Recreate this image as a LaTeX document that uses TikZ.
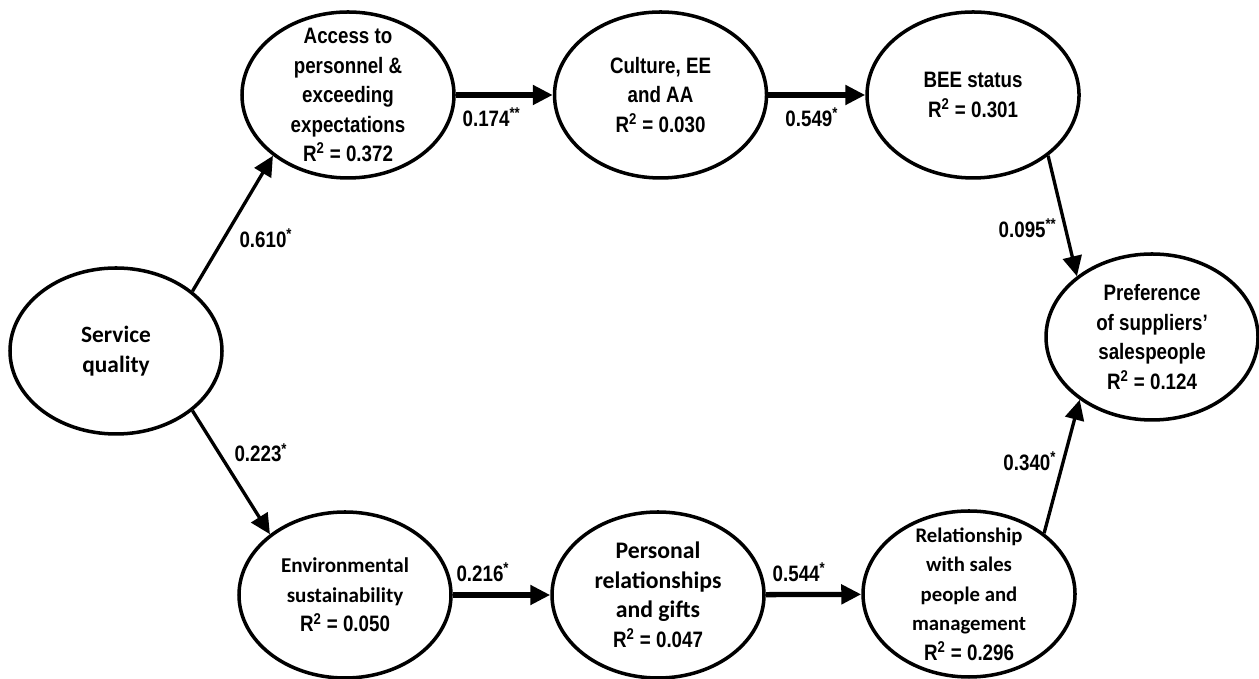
\documentclass[tikz,border=0pt]{standalone}
\usepackage{fontspec}
\setmainfont{Liberation Sans}
\newfontfamily\narrowbf{Liberation Sans}[FakeStretch=0.84]
\newfontfamily\calbf{Carlito}
\newcommand{\nb}{\narrowbf\bfseries\fontsize{12.7}{16.8}\selectfont}
\newcommand{\cb}[2]{\calbf\bfseries\fontsize{#1}{#2}\selectfont}
\usepackage{tikz}
\usetikzlibrary{shapes.geometric, arrows.meta, positioning}

\begin{document}
\begin{tikzpicture}[
    node distance=1.94cm,
    latent/.style={draw, ellipse, line width=2pt, minimum width=4.24cm, minimum height=3.32cm, inner sep=0pt},
    txt/.style={align=center, font=\nb},
    arrow/.style={line width=1.9pt, -{Triangle[length=0.4cm, width=0.38cm]}},
    harrow/.style={arrow, line width=3pt},
    coef/.style={font=\nb, inner sep=2pt}
]
\useasboundingbox (0,0) rectangle (25.18,13.58);

% Exogenous construct
\node[latent, label={[txt]center:{\cb{13.3}{17.5}Service\\ \cb{13.3}{17.5}quality}}] (service) at (2.32,6.56) {};

% Upper path
\node[latent, label={[txt]center:{\nb Access to\\ \nb personnel \&\\ \nb exceeding\\ \nb expectations\\ \nb R\textsuperscript{2} = 0.372}}] (access) at (6.96,11.68) {};
\node[latent, right=of access, label={[txt]center:{\nb Culture, EE\\ \nb and AA\\ \nb R\textsuperscript{2} = 0.030}}] (culture) {};
\node[latent, right=of culture, label={[txt]center:{\nb BEE status\\ \nb R\textsuperscript{2} = 0.301}}] (bee) {};

% Lower path
\node[latent, label={[txt]center:{\cb{12}{16.4}Environmental\\ \cb{12}{16.4}sustainability\\ \nb R\textsuperscript{2} = 0.050}}] (environment) at (6.90,1.68) {};
\node[latent, label={[txt]center:{\cb{13.5}{15}Personal\\ \cb{13.5}{15}relationships\\ \cb{13.5}{15}and gifts\\ \nb R\textsuperscript{2} = 0.047}}] (personal) at (13.16,1.68) {};
\node[latent, label={[txt]center:{\cb{11.8}{17.4}Relationship\\ \cb{11.8}{17.4}with sales\\ \cb{11.8}{17.4}people and\\ \cb{11.8}{17.4}management\\ \nb R\textsuperscript{2} = 0.296}}] (relation) at (19.38,1.70) {};

% Outcome
\node[latent, label={[txt]center:{\nb Preference\\ \nb of suppliers’\\ \nb salespeople\\ \nb R\textsuperscript{2} = 0.124}}] (preference) at (23.04,6.84) {};

% Paths
\draw[arrow] (service.38) -- node[coef, pos=0.39, right=6pt] {0.610\textsuperscript{*}} (access.219);
\draw[arrow] (service.-38) -- node[coef, pos=0.34, right=6pt] {0.223\textsuperscript{*}} (environment.141);
\draw[harrow] (access) -- node[coef, pos=0.37, below=4pt] {0.174\textsuperscript{**}} (culture);
\draw[harrow] (culture) -- node[coef, pos=0.45, below=4pt] {0.549\textsuperscript{*}} (bee);
\draw[harrow] (environment) -- node[coef, pos=0.31, above=4pt] {0.216\textsuperscript{*}} (personal);
\draw[harrow] (personal) -- node[coef, pos=0.35, above=4pt] {0.544\textsuperscript{*}} (relation);
\draw[arrow] (bee.-39) -- node[coef, pos=0.6, left=2pt] {0.095\textsuperscript{**}} (preference.141);
\draw[arrow] (relation.39) -- node[coef, pos=0.54, left=1pt] {0.340\textsuperscript{*}} (preference.221);

\end{tikzpicture}
\end{document}
